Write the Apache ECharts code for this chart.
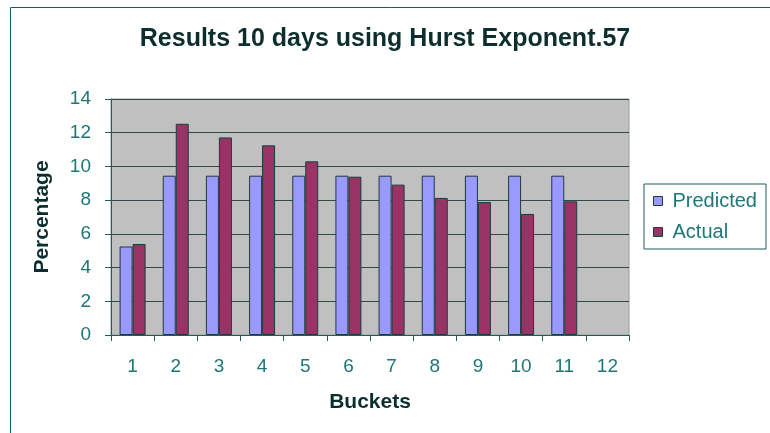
<!DOCTYPE html>
<html>
<head>
<meta charset="utf-8">
<script src="https://cdn.jsdelivr.net/npm/echarts@6/dist/echarts.min.js"></script>
<style>
html,body{margin:0;padding:0;background:#fff;}
#c{width:770px;height:433px;}
</style>
</head>
<body>
<div id="c"></div>
<script>
const categories = ['1','2','3','4','5','6','7','8','9','10','11','12'];
const predicted = [5.25, 9.45, 9.45, 9.45, 9.45, 9.45, 9.45, 9.45, 9.45, 9.45, 9.45];
const actual = [5.4, 12.53, 11.72, 11.25, 10.3, 9.39, 8.92, 8.13, 7.89, 7.18, 7.93];
const yTicks = [0, 2, 4, 6, 8, 10, 12, 14];

const FONT = '"Liberation Sans", Arial, sans-serif';
const tickColor = '#1e7676';
const boldColor = '#0c2e2e';
const lineColor = '#1e5e5e';

const chart = echarts.init(document.getElementById('c'), null, {renderer: 'canvas'});
chart.setOption({
  animation: false,
  backgroundColor: '#ffffff',
  title: {
    text: 'Results 10 days using Hurst Exponent.57',
    left: 'center',
    top: 22,
    textStyle: {fontFamily: FONT, fontSize: 25, fontWeight: 'bold', color: boldColor}
  },
  graphic: [{
    type: 'rect',
    shape: {x: 10.5, y: 7.5, width: 800, height: 500},
    style: {fill: 'none', stroke: lineColor, lineWidth: 1},
    silent: true,
    z: -1
  }],
  legend: {
    orient: 'vertical',
    left: 644,
    top: 184,
    padding: [7, 9, 7, 9],
    itemGap: 11,
    itemWidth: 9,
    itemHeight: 9,
    borderColor: lineColor,
    borderWidth: 1,
    icon: 'rect',
    textStyle: {fontFamily: FONT, fontSize: 20, color: tickColor, padding: [0, 0, 0, 5], lineHeight: 20},
    data: [
      {name: 'Predicted', itemStyle: {color: '#9999ff', borderColor: '#1c3c3c', borderWidth: 1}},
      {name: 'Actual', itemStyle: {color: '#993366', borderColor: '#1c3c3c', borderWidth: 1}}
    ]
  },
  grid: {
    left: 111,
    right: 141,
    top: 99,
    bottom: 98,
    show: true,
    backgroundColor: '#c0c0c0',
    borderColor: '#9a9a9a',
    borderWidth: 1,
    containLabel: false
  },
  xAxis: {
    type: 'category',
    data: categories,
    boundaryGap: true,
    name: 'Buckets',
    nameLocation: 'middle',
    nameGap: 57,
    nameTextStyle: {fontFamily: FONT, fontSize: 21, fontWeight: 'bold', color: boldColor},
    axisLine: {show: true, lineStyle: {color: lineColor, width: 1}},
    axisTick: {show: true, alignWithLabel: false, length: 6, lineStyle: {color: lineColor}},
    axisLabel: {fontFamily: FONT, fontSize: 19, color: tickColor, margin: 22},
    splitLine: {show: false}
  },
  yAxis: {
    type: 'value',
    min: 0,
    max: 14,
    interval: 2,
    name: 'Percentage',
    nameLocation: 'middle',
    nameGap: 58,
    nameRotate: 90,
    nameTextStyle: {fontFamily: FONT, fontSize: 21, fontWeight: 'bold', color: boldColor},
    axisLine: {show: true, lineStyle: {color: lineColor, width: 1}},
    axisTick: {show: true, length: 6, inside: false, lineStyle: {color: lineColor}},
    axisLabel: {fontFamily: FONT, fontSize: 19, color: tickColor, margin: 20,
      formatter: v => yTicks.includes(v) ? String(v) : ''},
    splitLine: {show: true, lineStyle: {color: '#2e4a4a', width: 1}}
  },
  series: [
    {
      name: 'Predicted',
      type: 'bar',
      data: predicted,
      barWidth: 13,
      barGap: '0%',
      itemStyle: {color: '#9999ff', borderColor: '#1c3c3c', borderWidth: 1}
    },
    {
      name: 'Actual',
      type: 'bar',
      data: actual,
      barWidth: 13,
      barGap: '0%',
      itemStyle: {color: '#993366', borderColor: '#1c3c3c', borderWidth: 1}
    }
  ]
});
</script>
</body>
</html>
